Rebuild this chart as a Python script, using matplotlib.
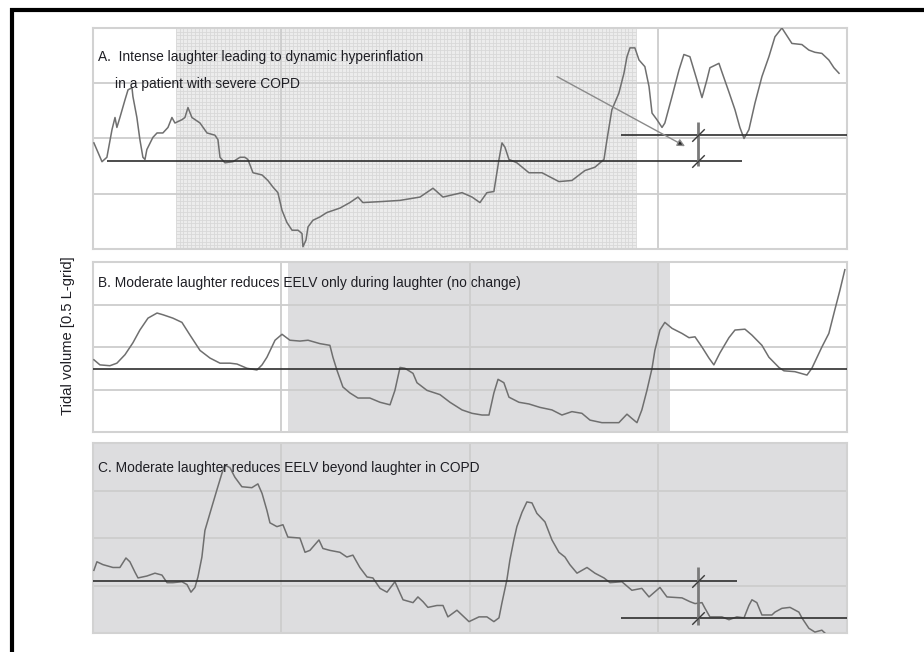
import numpy as np
import matplotlib.pyplot as plt
from matplotlib.lines import Line2D
from matplotlib.path import Path

plt.rcParams['font.family'] = ['Liberation Sans', 'DejaVu Sans']

# A: intense laughter, severe COPD  (time in s, volume in L)
a_t = [0.05, 0.48, 0.74, 1.01, 1.17, 1.27, 1.43, 1.70, 1.86, 2.07, 2.12, 2.33, 2.49, 2.65, 2.76,
       2.86, 3.18, 3.40, 3.71, 3.98, 4.19, 4.35, 4.72, 4.88, 5.04, 5.25, 5.68, 6.05, 6.47, 6.63,
       6.74, 7.00, 7.43, 7.80, 8.06, 8.22, 8.49, 8.97, 9.28, 9.55, 9.81, 10.03, 10.29, 10.56,
       10.88, 11.09, 11.14, 11.30, 11.41, 11.67, 12.04, 12.41, 13.10, 13.63, 14.06, 14.32,
       15.38, 16.29, 17.35, 18.04, 18.57, 19.58, 20.11, 20.53, 20.90, 21.27, 21.54, 21.70,
       21.86, 22.07, 22.49, 23.13, 23.82, 24.72, 25.41, 26.10, 26.63, 27.11, 27.27, 27.53,
       27.90, 28.17, 28.33, 28.49, 28.75, 28.97, 29.28, 29.50, 29.66, 29.92, 30.19, 30.34,
       30.72, 31.09, 31.35, 31.67, 32.04, 32.31, 32.57, 32.73, 33.21, 33.37, 33.74, 34.06,
       34.32, 34.54, 34.80, 35.12, 35.49, 35.86, 36.18, 36.55, 37.08, 37.61, 37.98, 38.30,
       38.67, 39.04, 39.31, 39.58]
a_v = [0.96, 0.79, 0.83, 1.08, 1.19, 1.10, 1.19, 1.35, 1.44, 1.46, 1.38, 1.19, 0.99, 0.83, 0.81,
       0.90, 1.01, 1.05, 1.05, 1.10, 1.19, 1.14, 1.17, 1.19, 1.28, 1.19, 1.14, 1.05, 1.03, 0.99,
       0.83, 0.78, 0.79, 0.83, 0.83, 0.81, 0.69, 0.67, 0.62, 0.56, 0.51, 0.35, 0.24, 0.17,
       0.17, 0.14, 0.02, 0.08, 0.20, 0.26, 0.29, 0.33, 0.37, 0.42, 0.47, 0.42,
       0.43, 0.44, 0.47, 0.55, 0.47, 0.51, 0.47, 0.42, 0.51, 0.52, 0.81, 0.96,
       0.92, 0.81, 0.78, 0.69, 0.69, 0.61, 0.62, 0.71, 0.74, 0.81, 0.99, 1.26,
       1.41, 1.59, 1.74, 1.82, 1.82, 1.71, 1.65, 1.47, 1.23, 1.17, 1.10, 1.14,
       1.38, 1.62, 1.76, 1.74, 1.53, 1.37, 1.53, 1.64, 1.68, 1.60, 1.42, 1.26,
       1.10, 1.00, 1.08, 1.32, 1.56, 1.74, 1.92, 2.00, 1.86, 1.85, 1.80, 1.78,
       1.77, 1.71, 1.64, 1.59]

# B: moderate laughter, EELV back to baseline
b_t = [0.05, 0.37, 0.90, 1.27, 1.70, 2.12, 2.49, 2.92, 3.40, 3.71, 4.24, 4.72, 5.15, 5.68, 6.21,
       6.74, 7.27, 7.64, 8.17, 8.70, 8.97, 9.23, 9.66, 10.03, 10.45, 10.98, 11.41, 12.04,
       12.57, 12.73, 12.94, 13.26, 13.63, 14.06, 14.69, 15.23, 15.76, 16.02, 16.29, 16.55,
       16.98, 17.19, 17.72, 18.41, 18.94, 19.58, 20.11, 20.64, 21.01, 21.27, 21.49, 21.80,
       22.07, 22.60, 23.13, 23.71, 24.35, 24.88, 25.41, 25.94, 26.37, 27.00, 27.90, 28.33,
       28.59, 28.86, 29.12, 29.39, 29.66, 29.81, 30.08, 30.34, 30.72, 31.25, 31.62, 31.94,
       32.31, 32.68, 32.94, 33.26, 33.74, 34.06, 34.59, 34.96, 35.49, 35.86, 36.39, 36.66,
       37.24, 37.88, 38.14, 38.67, 39.04, 39.36, 39.63, 39.89]
b_v = [0.85, 0.79, 0.78, 0.81, 0.91, 1.05, 1.20, 1.34, 1.40, 1.38, 1.34, 1.29, 1.14, 0.96, 0.87,
       0.81, 0.81, 0.80, 0.75, 0.73, 0.79, 0.88, 1.08, 1.15, 1.08, 1.07, 1.08, 1.04,
       1.02, 0.88, 0.73, 0.53, 0.46, 0.40, 0.40, 0.35, 0.32, 0.49, 0.76, 0.75,
       0.69, 0.58, 0.49, 0.44, 0.35, 0.26, 0.22, 0.20, 0.20, 0.46, 0.62, 0.58,
       0.41, 0.35, 0.33, 0.29, 0.26, 0.20, 0.24, 0.22, 0.14, 0.11, 0.11, 0.21,
       0.16, 0.11, 0.26, 0.49, 0.75, 0.96, 1.20, 1.29, 1.22, 1.16, 1.11, 1.12,
       1.00, 0.87, 0.79, 0.93, 1.11, 1.20, 1.21, 1.14, 1.02, 0.88, 0.76, 0.72,
       0.71, 0.67, 0.75, 1.00, 1.16, 1.44, 1.67, 1.91]

# C: moderate laughter, EELV stays lower afterwards
c_t = [0.05, 0.21, 0.53, 1.06, 1.43, 1.75, 1.96, 2.23, 2.39, 2.86, 3.29, 3.66, 3.93, 4.24, 4.72,
       4.99, 5.20, 5.41, 5.57, 5.78, 5.94, 6.31, 6.58, 6.84, 7.00, 7.27, 7.53, 7.90, 8.43,
       8.75, 8.97, 9.23, 9.39, 9.76, 10.08, 10.34, 10.98, 11.25, 11.51, 11.99, 12.20, 12.57,
       13.10, 13.47, 13.79, 14.16, 14.54, 14.85, 15.23, 15.60, 16.02, 16.29, 16.45, 16.98,
       17.24, 17.51, 17.77, 18.25, 18.57, 18.83, 19.31, 19.95, 20.48, 20.90, 21.27, 21.54,
       21.70, 21.96, 22.12, 22.33, 22.49, 22.76, 23.02, 23.29, 23.55, 23.98, 24.35, 24.72,
       25.04, 25.30, 25.68, 26.21, 26.63, 27.11, 27.43, 28.06, 28.59, 29.12, 29.50, 30.08,
       30.45, 31.25, 31.67, 31.94, 32.31, 32.47, 32.73, 33.37, 33.74, 34.16, 34.54, 34.80,
       34.96, 35.22, 35.49, 36.02, 36.18, 36.55, 36.98, 37.45, 37.61, 37.98, 38.30, 38.67,
       38.83]
c_v = [0.66, 0.75, 0.72, 0.69, 0.69, 0.79, 0.75, 0.64, 0.58, 0.60, 0.63, 0.61, 0.53, 0.53, 0.54,
       0.51, 0.43, 0.48, 0.59, 0.80, 1.08, 1.33, 1.51, 1.68, 1.77, 1.74, 1.64, 1.54, 1.53,
       1.57, 1.47, 1.29, 1.16, 1.12, 1.14, 1.01, 1.00, 0.85, 0.87, 0.98, 0.89, 0.87,
       0.85, 0.80, 0.82, 0.69, 0.59, 0.58, 0.47, 0.43, 0.54, 0.42, 0.35, 0.32,
       0.38, 0.33, 0.27, 0.29, 0.29, 0.17, 0.24, 0.12, 0.17, 0.17, 0.12, 0.16,
       0.32, 0.56, 0.77, 0.98, 1.12, 1.27, 1.38, 1.37, 1.26, 1.17, 0.98, 0.85,
       0.80, 0.72, 0.63, 0.69, 0.63, 0.58, 0.53, 0.54, 0.45, 0.47, 0.38, 0.48,
       0.38, 0.37, 0.33, 0.31, 0.32, 0.26, 0.17, 0.17, 0.14, 0.17, 0.16, 0.29,
       0.35, 0.32, 0.19, 0.19, 0.22, 0.26, 0.27, 0.22, 0.16, 0.05, 0.01, 0.03,
       0.00]

titles = ["A.  Intense laughter leading to dynamic hyperinflation",
          "B. Moderate laughter reduces EELV only during laughter (no change)",
          "C. Moderate laughter reduces EELV beyond laughter in COPD"]
subtitle_a = "in a patient with severe COPD"

# laughter windows (s)
laugh_a = (4.40, 28.81)
laugh_b = (10.34, 30.61)

# end-expiratory reference levels (L)
eelv_a = [0.80, 1.03]
eelv_b = 0.74
eelv_c = [0.55, 0.16]
delta_t = 32.10

trace_col = '#6f6f6f'
line_col = '#2e2e2e'
text_col = '#1e1e24'
slash = Path([(-1, -1), (1, 1)])

fig = plt.figure(figsize=(9.24, 6.52), dpi=100)
ax_a = fig.add_axes([0.1006, 0.6181, 0.8160, 0.3390])
ax_b = fig.add_axes([0.1006, 0.3374, 0.8160, 0.2607])
ax_c = fig.add_axes([0.1006, 0.0291, 0.8160, 0.2914])


def setup(ax):
    ax.set_xlim(0, 40)
    ax.set_ylim(0, 2.0)
    ax.set_xticks([10, 20, 30])
    ax.set_yticks([0.5, 1.0, 1.5])
    ax.set_axisbelow(True)
    ax.grid(True, color='#cdcdcd', lw=1.3)
    ax.tick_params(length=0, labelleft=False, labelbottom=False)
    for s in ax.spines.values():
        s.set_color('#d2d2d2')
        s.set_linewidth(1.5)


for ax in (ax_a, ax_b, ax_c):
    setup(ax)

# panel A: hatched recording paper during laughter
ax_a.axvspan(*laugh_a, color='#ececec', lw=0, zorder=0.1)
fine_x = np.arange(laugh_a[0], laugh_a[1], 0.2)
fine_y = np.arange(0, 2.0, 0.5 / 15)
ax_a.vlines(fine_x, 0, 2.0, color='#d8d8d8', lw=0.6, zorder=0.3)
ax_a.hlines(fine_y, laugh_a[0], laugh_a[1], color='#d8d8d8', lw=0.6, zorder=0.3)
ax_a.plot(a_t, a_v, color=trace_col, lw=1.1, zorder=3)
ax_a.hlines(eelv_a[0], 0.74, 34.43, color=line_col, lw=1.2, zorder=4)
ax_a.hlines(eelv_a[1], 28.01, 40, color=line_col, lw=1.2, zorder=4)
ax_a.vlines(delta_t, 0.75, 1.15, color='#7a7a7a', lw=2, zorder=4)
ax_a.plot([delta_t] * 2, eelv_a, ls='none', marker=slash, ms=9, mec='#3a3a3a', mew=1, zorder=5)
ax_a.annotate('', xy=(31.41, 0.93), xytext=(24.62, 1.56),
              arrowprops=dict(arrowstyle='-|>', ec='#8a8a8a', fc='#222222', lw=1,
                              mutation_scale=11, shrinkA=0, shrinkB=0), zorder=5)
ax_a.text(0.0066, 0.869, titles[0], transform=ax_a.transAxes, fontsize=9.9,
          color=text_col, va='center', zorder=6)
ax_a.text(0.029, 0.747, subtitle_a, transform=ax_a.transAxes, fontsize=9.9,
          color=text_col, va='center', zorder=6)

# panel B
ax_b.axvspan(*laugh_b, color='#dddddf', lw=0, zorder=0.1)
ax_b.plot(b_t, b_v, color=trace_col, lw=1.1, zorder=3)
ax_b.axhline(eelv_b, color=line_col, lw=1.2, zorder=4)
ax_b.text(0.0066, 0.876, titles[1], transform=ax_b.transAxes, fontsize=9.9,
          color=text_col, va='center', zorder=6)

# panel C: whole record during laughter
ax_c.set_facecolor('#dddddf')
ax_c.plot(c_t, c_v, color=trace_col, lw=1.1, zorder=3)
ax_c.hlines(eelv_c[0], 0, 34.16, color=line_col, lw=1.2, zorder=4)
ax_c.hlines(eelv_c[1], 28.01, 40, color=line_col, lw=1.2, zorder=4)
ax_c.vlines(delta_t, 0.08, 0.69, color='#7a7a7a', lw=2, zorder=4)
ax_c.plot([delta_t] * 2, eelv_c, ls='none', marker=slash, ms=9, mec='#3a3a3a', mew=1, zorder=5)
ax_c.text(0.0066, 0.868, titles[2], transform=ax_c.transAxes, fontsize=9.9,
          color=text_col, va='center', zorder=6)

fig.text(0.0736, 0.4847, 'Tidal volume [0.5 L-grid]', rotation=90, fontsize=10.6,
         color=text_col, ha='center', va='center')

# frame on top and left
fig.add_artist(Line2D([0.011, 1.0], [0.9847, 0.9847], color='black', lw=3,
                      solid_capstyle='butt'))
fig.add_artist(Line2D([0.013, 0.013], [0.0, 0.9878], color='black', lw=3,
                      solid_capstyle='butt'))

fig.savefig('out.png', dpi=100)
